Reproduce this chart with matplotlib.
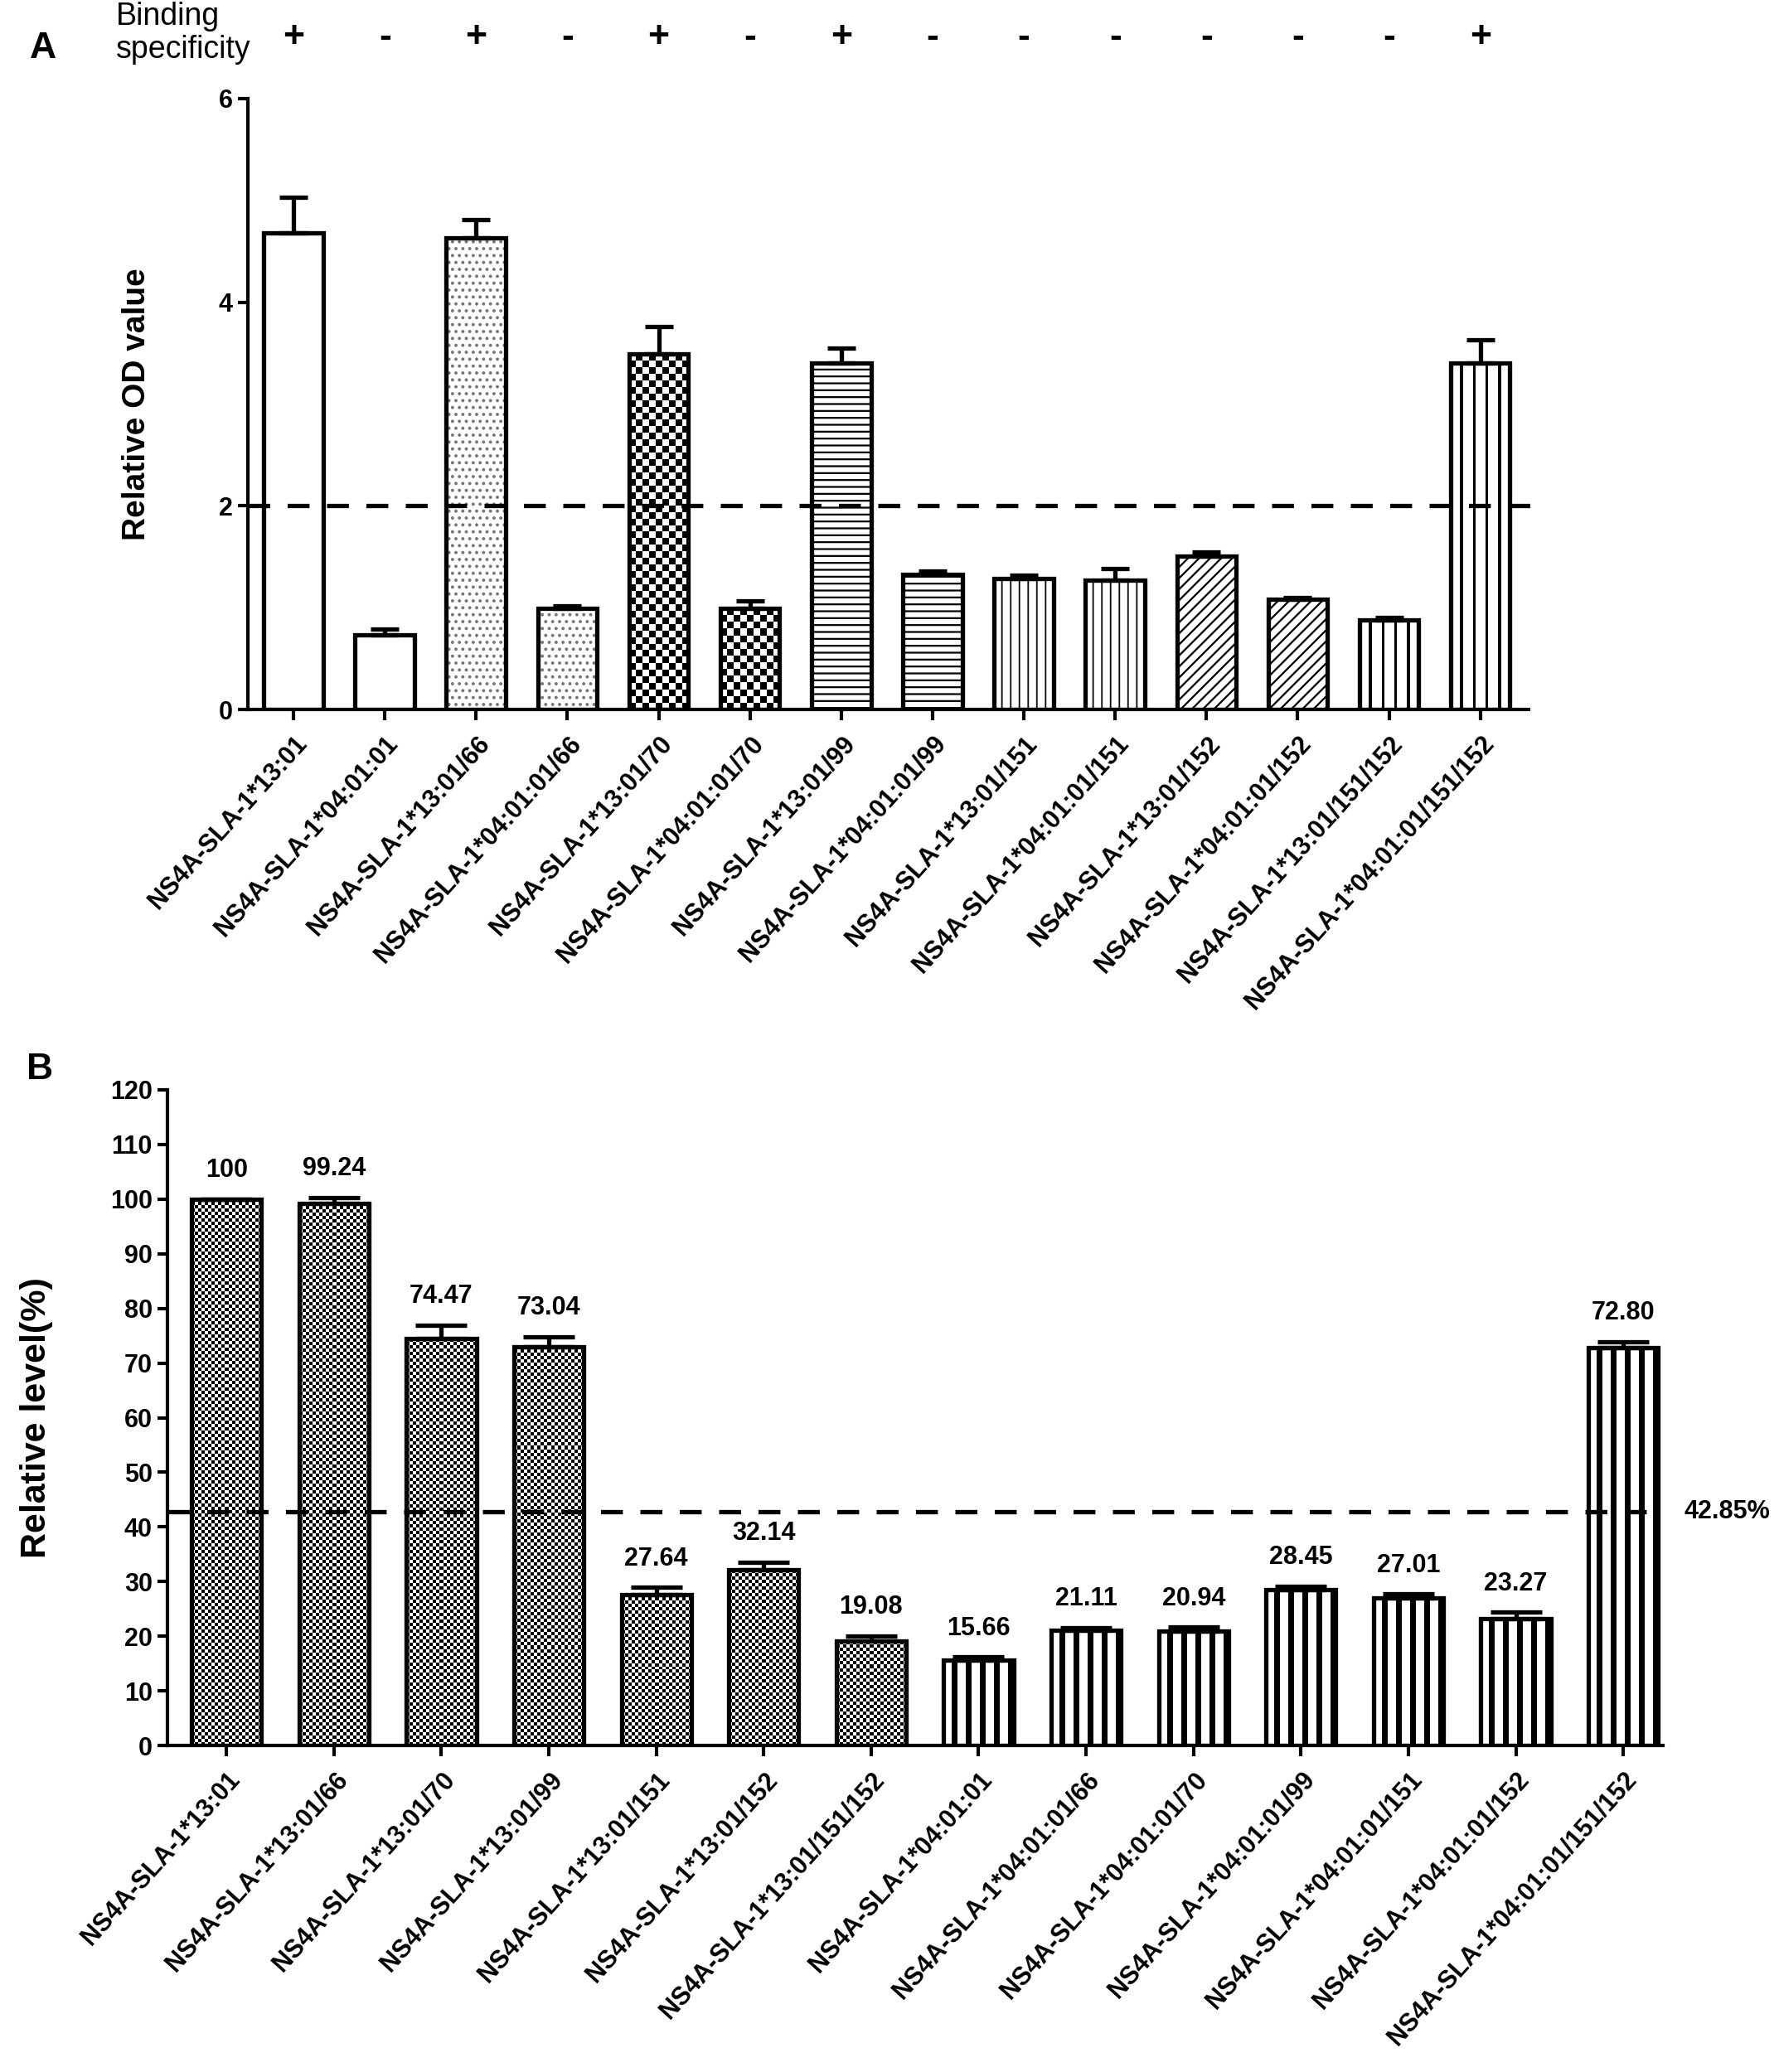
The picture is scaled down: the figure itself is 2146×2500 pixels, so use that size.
import numpy as np
import matplotlib
matplotlib.use("Agg")
import matplotlib.pyplot as plt
from matplotlib.transforms import blended_transform_factory

plt.rcParams['font.family'] = ['Liberation Sans', 'DejaVu Sans']
plt.rcParams['font.weight'] = 'bold'
plt.rcParams['hatch.linewidth'] = 0.8

# ---- panel A data ----
labels_a = ["NS4A-SLA-1*13:01", "NS4A-SLA-1*04:01:01",
            "NS4A-SLA-1*13:01/66", "NS4A-SLA-1*04:01:01/66",
            "NS4A-SLA-1*13:01/70", "NS4A-SLA-1*04:01:01/70",
            "NS4A-SLA-1*13:01/99", "NS4A-SLA-1*04:01:01/99",
            "NS4A-SLA-1*13:01/151", "NS4A-SLA-1*04:01:01/151",
            "NS4A-SLA-1*13:01/152", "NS4A-SLA-1*04:01:01/152",
            "NS4A-SLA-1*13:01/151/152", "NS4A-SLA-1*04:01:01/151/152"]
od_values = [4.68, 0.73, 4.63, 0.99, 3.49, 0.99, 3.40, 1.33, 1.29, 1.27, 1.51, 1.08, 0.88, 3.40]
od_errors = [0.35, 0.06, 0.18, 0.03, 0.27, 0.08, 0.15, 0.03, 0.03, 0.11, 0.04, 0.02, 0.02, 0.23]
binding = ['+', '-', '+', '-', '+', '-', '+', '-', '-', '-', '-', '-', '-', '+']
fill_a = ['none', 'none', 'dots', 'dots', 'checker', 'checker', 'hlines', 'hlines',
          'vthin', 'vthin', 'diag', 'diag', 'vthick', 'vthick']
cutoff_a = 2

# ---- panel B data ----
labels_b = ["NS4A-SLA-1*13:01", "NS4A-SLA-1*13:01/66", "NS4A-SLA-1*13:01/70",
            "NS4A-SLA-1*13:01/99", "NS4A-SLA-1*13:01/151", "NS4A-SLA-1*13:01/152",
            "NS4A-SLA-1*13:01/151/152", "NS4A-SLA-1*04:01:01", "NS4A-SLA-1*04:01:01/66",
            "NS4A-SLA-1*04:01:01/70", "NS4A-SLA-1*04:01:01/99", "NS4A-SLA-1*04:01:01/151",
            "NS4A-SLA-1*04:01:01/152", "NS4A-SLA-1*04:01:01/151/152"]
level_values = [100, 99.24, 74.47, 73.04, 27.64, 32.14, 19.08,
                15.66, 21.11, 20.94, 28.45, 27.01, 23.27, 72.80]
level_text = ["100", "99.24", "74.47", "73.04", "27.64", "32.14", "19.08",
              "15.66", "21.11", "20.94", "28.45", "27.01", "23.27", "72.80"]
level_errors = [0, 1.1, 2.5, 1.8, 1.3, 1.4, 1.0, 0.5, 0.5, 0.7, 0.7, 0.7, 1.1, 1.1]
fill_b = ['fine_checker'] * 7 + ['vbold'] * 7
cutoff_b = 42.85

hatches = {'dots': '....', 'hlines': '----', 'diag': '/////'}
hatch_colors = {'dots': '#777777', 'hlines': 'black', 'diag': 'black'}


def stripes(n_lines, gap, line, tail=0):
    cols = ([0] * gap + [1] * line) * n_lines + [0] * gap + [1] * tail
    return np.array([cols], dtype=float)


def px_size(ax, w, h):
    p0 = ax.transData.transform((0, 0))
    p1 = ax.transData.transform((w, h))
    return np.abs(p1 - p0)


def add_texture(ax, bar, kind):
    x0, y0 = bar.get_x(), bar.get_y()
    w, h = bar.get_width(), bar.get_height()
    wpx, hpx = px_size(ax, w, h)
    if kind in ('checker', 'fine_checker'):
        cell = 8 if kind == 'checker' else 4
        nx, ny = max(int(round(wpx / cell)), 1), max(int(round(hpx / cell)), 1)
        img = (np.add.outer(np.arange(ny), np.arange(nx)) % 2).astype(float)
        interp = 'nearest'
    elif kind == 'vthin':
        img = stripes(6, 5, 1)
        interp = 'antialiased'
    elif kind == 'vthick':
        img = stripes(4, 3, 1)
        interp = 'antialiased'
    elif kind == 'vbold':
        img = stripes(4, 3, 2, tail=2)
        interp = 'antialiased'
    else:
        return
    im = ax.imshow(img, extent=(x0, x0 + w, y0, y0 + h), cmap='gray_r', vmin=0, vmax=1,
                   interpolation=interp, aspect='auto', zorder=2.5)
    im.set_clip_path(bar)


def draw_panel(ax, labels, values, errors, fills, xlim, ylim, yticks, capsize):
    x = np.arange(len(labels))
    ax.set_xlim(*xlim)
    ax.set_ylim(*ylim)
    base = ax.bar(x, values, width=0.65, color='white', linewidth=0, zorder=2)
    for bar, kind in zip(base, fills):
        if kind in hatches:
            bar.set_hatch(hatches[kind])
            bar.set_edgecolor(hatch_colors[kind])
        else:
            add_texture(ax, bar, kind)
    ax.errorbar(x, values, yerr=[np.zeros(len(x)), errors], fmt='none', ecolor='black',
                elinewidth=1.9, capsize=capsize, capthick=1.9, zorder=3)
    ax.bar(x, values, width=0.65, fill=False, edgecolor='black', linewidth=1.9, zorder=4)

    ax.set_xlim(*xlim)
    ax.set_ylim(*ylim)
    ax.spines['top'].set_visible(False)
    ax.spines['right'].set_visible(False)
    ax.spines['left'].set_linewidth(1.5)
    ax.spines['bottom'].set_linewidth(1.5)
    ax.set_yticks(yticks)
    ax.set_xticks(x)
    ax.set_xticklabels(labels, rotation=48, ha='right', va='top',
                       rotation_mode='anchor', fontsize=12, fontweight='bold')
    ax.tick_params(direction='out', length=4.5, width=1.5, labelsize=11, pad=2)
    ax.tick_params(axis='x', pad=5)
    return x


fig = plt.figure(figsize=(10.73, 12.5), dpi=200)

# ---- panel A ----
ax_a = fig.add_axes([0.1393, 0.6576, 0.720, 0.2948])
xa = draw_panel(ax_a, labels_a, od_values, od_errors, fill_a,
                (-0.5, 13.53), (0, 6), [0, 2, 4, 6], 6)
ax_a.axhline(cutoff_a, xmin=0, xmax=1.01, color='black', lw=1.9, ls=(0, (5, 4)),
             clip_on=False, zorder=5)
ax_a.set_ylabel('Relative OD value', fontsize=14, fontweight='bold')
ax_a.yaxis.set_label_coords(-0.075, 0.5)
top_a = blended_transform_factory(ax_a.transData, ax_a.transAxes)
for i, s in zip(xa, binding):
    ax_a.text(i, 1.10, s, transform=top_a, ha='center', va='center',
              fontsize=16, fontweight='bold', clip_on=False)
fig.text(0.0652, 0.984, 'Binding\nspecificity', fontsize=13.5, fontweight='normal',
         ha='left', va='center', linespacing=1.15)
fig.text(0.0242, 0.9764, 'A', fontsize=16, fontweight='bold', ha='center', va='center')

# ---- panel B ----
ax_b = fig.add_axes([0.0941, 0.1576, 0.8407, 0.3164])
xb = draw_panel(ax_b, labels_b, level_values, level_errors, fill_b,
                (-0.55, 13.37), (0, 120), np.arange(0, 121, 10), 11)
ax_b.axhline(cutoff_b, xmin=0, xmax=1.0, color='black', lw=1.9, ls=(0, (5, 4)), zorder=5)
ax_b.text(1.014, cutoff_b, f'{cutoff_b:.2f}%', transform=blended_transform_factory(
    ax_b.transAxes, ax_b.transData), ha='left', va='center', fontsize=11, fontweight='bold')
for i, v, e, s in zip(xb, level_values, level_errors, level_text):
    ax_b.annotate(s, (i, v + e), xytext=(0, 12.5), textcoords='offset points',
                  ha='center', va='center', fontsize=11, fontweight='bold')
ax_b.set_ylabel('Relative level(%)', fontsize=15.5, fontweight='bold')
ax_b.yaxis.set_label_coords(-0.0765, 0.5)
fig.text(0.0224, 0.4836, 'B', fontsize=16, fontweight='bold', ha='center', va='center')

fig.savefig('out.png', dpi=200, facecolor='white')
